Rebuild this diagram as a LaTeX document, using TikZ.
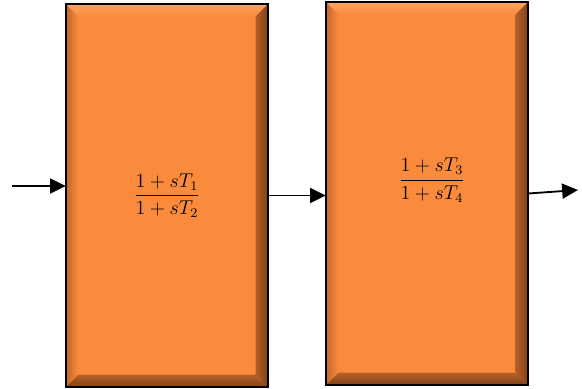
\documentclass[tikz,border=0pt]{standalone}
\usepackage{xcolor}
\usepackage{tikz}
\usetikzlibrary{positioning, arrows.meta, calc}
\definecolor{blkorange}{HTML}{FA8B3C}
\definecolor{blklight}{HTML}{FBA462}
\definecolor{blkdark}{HTML}{C4652A}
\definecolor{blkbrown}{HTML}{7C4118}

\tikzset{
  blockbox/.style={draw=black, line width=1.4pt, fill=blkorange, minimum width=120pt, minimum height=228.6pt, inner sep=0pt},
  sigline/.style={line width=1.1pt, -{Triangle[length=9.5pt, width=9pt]}},
}

\begin{document}
\begin{tikzpicture}[x=0.6pt, y=-0.6pt]
  \useasboundingbox (0,0) rectangle (582,389);
  \node[blockbox] (blk1) at (167,195.5) {};
  \node[blockbox] (blk2) at (427,193.5) {};
  % bevel on each block
  \foreach \b in {blk1, blk2} {
    \shade[left color=blkdark, right color=blkorange]
      (\b.north west) -- (\b.south west) -- ($(\b.south west)+(7.5pt,7.5pt)$) -- ($(\b.north west)+(7.5pt,-7.5pt)$) -- cycle;
    \shade[top color=blklight, bottom color=blkorange]
      (\b.north west) -- (\b.north east) -- ($(\b.north east)+(-7.5pt,-7.5pt)$) -- ($(\b.north west)+(7.5pt,-7.5pt)$) -- cycle;
    \shade[left color=blkdark!80!blkbrown, right color=blkbrown]
      (\b.north east) -- (\b.south east) -- ($(\b.south east)+(-7.5pt,7.5pt)$) -- ($(\b.north east)+(-7.5pt,-7.5pt)$) -- cycle;
    \shade[top color=blkdark!85!blkbrown, bottom color=blkbrown]
      (\b.south west) -- (\b.south east) -- ($(\b.south east)+(-7.5pt,7.5pt)$) -- ($(\b.south west)+(7.5pt,7.5pt)$) -- cycle;
    \draw[line width=1.4pt] (\b.north west) rectangle (\b.south east);
  }
  \node[font=\fontsize{11.5}{13}\selectfont] (tf1) at (blk1.center) {$\displaystyle\frac{1+sT_1}{1+sT_2}$};
  \node[font=\fontsize{11.5}{13}\selectfont] (tf2) at ([xshift=3pt, yshift=8pt]blk2.center) {$\displaystyle\frac{1+sT_3}{1+sT_4}$};
  \coordinate (inp) at (12,186);
  \coordinate (outp) at (578,190);
  \draw[sigline] (inp) -- (inp -| blk1.west);
  \draw[sigline] (blk1.east) -- (blk1.east -| blk2.west);
  \draw[sigline] (blk2.east) -- (outp);
\end{tikzpicture}
\end{document}
